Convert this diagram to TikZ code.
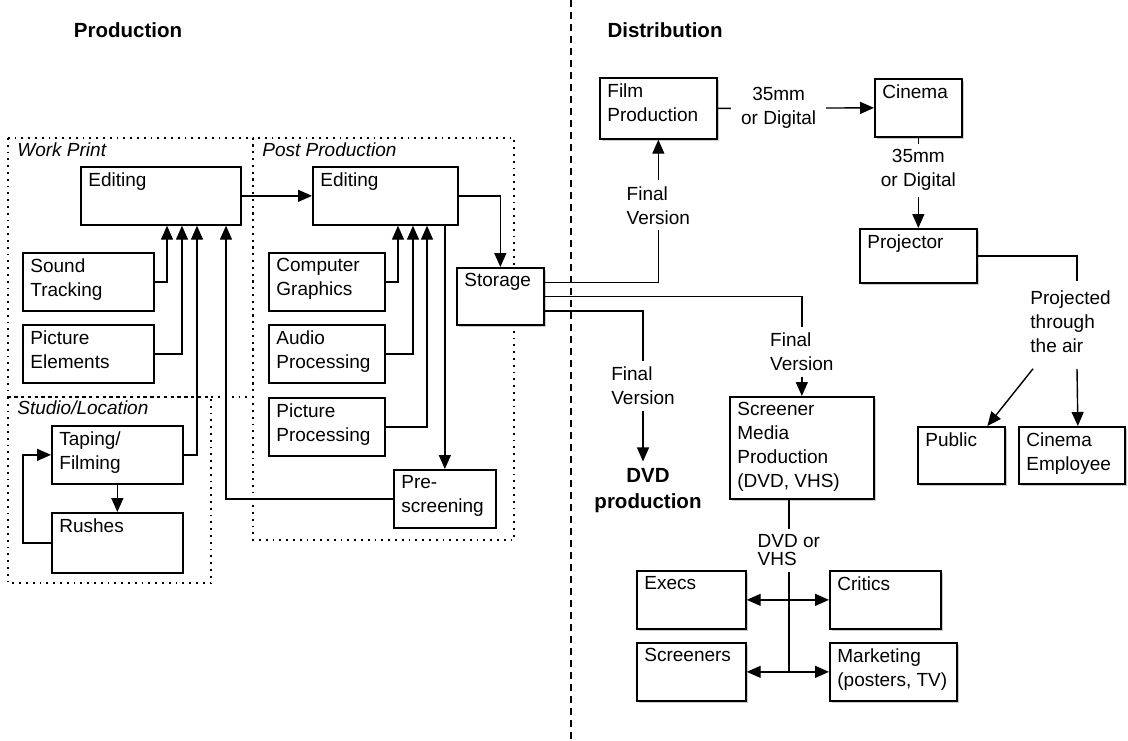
\documentclass[tikz,border=0pt]{standalone}
\usepackage{fontspec}
\setmainfont{Liberation Sans}
\usetikzlibrary{shapes,arrows.meta,positioning,calc,shadows}

\begin{document}
\begin{tikzpicture}[x=0.5pt, y=-0.5pt, every node/.style={font=\fontsize{9.5}{12}\selectfont}]
        % 定义样式
        \tikzstyle{box} = [rectangle, draw=black, line width=0.85pt, fill=white, anchor=north west, inner sep=0pt]
        \tikzstyle{sbox} = [box, drop shadow={shadow xshift=1.2pt, shadow yshift=-1.2pt, fill=black!45, opacity=0.45}]
        \tikzstyle{boxtext} = [anchor=north west, align=left, inner sep=0pt, xshift=4pt, yshift=-3pt]
        \tikzstyle{lbl} = [fill=white, align=left, inner sep=3pt]
        \tikzstyle{heading} = [font=\fontsize{10.25}{13}\selectfont\bfseries]
        \tikzstyle{grplbl} = [anchor=base west, inner sep=0pt, font=\fontsize{9.5}{12}\selectfont\itshape]
        \tikzstyle{grpframe} = [line width=0.9pt, dash pattern=on 0.9pt off 2.5pt]
        \tikzstyle{conn} = [line width=0.7pt]
        \tikzstyle{arrow} = [conn, -{Triangle[length=7pt, width=6pt]}]
        \tikzstyle{dblarrow} = [conn, {Triangle[length=7pt, width=6pt]}-{Triangle[length=7pt, width=6pt]}]

        \useasboundingbox (0,0) rectangle (1128,740);

        % 标题和分隔线
        \node (prodtitle) [heading] at (128,30) {Production};
        \node (disttitle) [heading] at (665,30) {Distribution};
        \draw [line width=0.6pt, dash pattern=on 3.5pt off 2.5pt] (571,0) -- (571,740);

        % 分组框
        \draw [grpframe] (8,138) rectangle (253,397);
        \draw [grpframe] (253,138) rectangle (514,540);
        \draw [grpframe] (8,397) rectangle (211,583);
        \node (wplabel) [grplbl] at (17,156) {Work Print};
        \node (pplabel) [grplbl] at (262,156) {Post Production};
        \node (sllabel) [grplbl] at (17,414) {Studio/Location};

        % 制作部分
        \node (wpedit) [box, minimum width=80pt, minimum height=29pt, label={[boxtext]north west:Editing}] at (80,166) {};
        \node (sound) [box, minimum width=65.5pt, minimum height=29pt, label={[boxtext]north west:{Sound\\Tracking}}] at (22,252) {};
        \node (picel) [box, minimum width=65.5pt, minimum height=29pt, label={[boxtext]north west:{Picture\\Elements}}] at (22,324) {};
        \node (taping) [box, minimum width=65.5pt, minimum height=29pt, label={[boxtext]north west:{Taping/\\Filming}}] at (51,425) {};
        \node (rushes) [box, minimum width=65.5pt, minimum height=30pt, label={[boxtext]north west:Rushes}] at (51,512) {};
        \node (ppedit) [box, minimum width=72.5pt, minimum height=29pt, label={[boxtext]north west:Editing}] at (312,166) {};
        \node (cg) [box, minimum width=58pt, minimum height=29pt, label={[boxtext]north west:{Computer\\Graphics}}] at (268,252) {};
        \node (audio) [box, minimum width=58pt, minimum height=29pt, label={[boxtext]north west:{Audio\\Processing}}] at (268,324) {};
        \node (picproc) [box, minimum width=58pt, minimum height=29pt, label={[boxtext]north west:{Picture\\Processing}}] at (268,397) {};
        \node (prescr) [box, minimum width=51pt, minimum height=29pt, label={[boxtext]north west:{Pre-\\screening}}] at (393,469) {};
        \node (storage) [sbox, minimum width=43.5pt, minimum height=28.5pt, label={[boxtext]north west:Storage}] at (456,267) {};

        % 发行部分
        \node (film) [sbox, minimum width=58.5pt, minimum height=30.5pt, label={[boxtext]north west:{Film\\Production}}] at (599,77) {};
        \node (cinema) [sbox, minimum width=43.5pt, minimum height=29pt, label={[boxtext]north west:Cinema}] at (874,78) {};
        \node (projector) [sbox, minimum width=58.5pt, minimum height=27pt, label={[boxtext]north west:Projector}] at (859,228) {};
        \node (public) [sbox, minimum width=43.5pt, minimum height=28.5pt, label={[boxtext]north west:Public}] at (917,426) {};
        \node (cinemp) [sbox, minimum width=53pt, minimum height=28.5pt, label={[boxtext]north west:{Cinema\\Employee}}] at (1018,426) {};
        \node (screener) [sbox, minimum width=72pt, minimum height=51pt, label={[boxtext]north west:{Screener\\Media\\Production\\(DVD, VHS)}}] at (729,396) {};
        \node (execs) [sbox, minimum width=54.5pt, minimum height=29pt, label={[boxtext]north west:Execs}] at (636,570) {};
        \node (critics) [sbox, minimum width=55.5pt, minimum height=29pt, label={[boxtext]north west:Critics}] at (829,570) {};
        \node (screeners) [sbox, minimum width=54.5pt, minimum height=29pt, label={[boxtext]north west:Screeners}] at (636,642) {};
        \node (marketing) [sbox, minimum width=63.5pt, minimum height=29pt, label={[boxtext]north west:{Marketing\\(posters, TV)}}] at (829,642) {};
        \node (dvd) [heading, align=center, inner sep=3.5pt] at (648,491) {DVD\\production};
        \node (air) [anchor=north west, align=left, inner sep=0pt] at (1030,290) {Projected\\through\\the air};

        % 连接节点
        \draw [arrow] (wpedit.east) -- (ppedit.west);
        \draw [arrow] (sound.east) -| ([xshift=43.5pt]wpedit.south west);
        \draw [arrow] (picel.east) -| ([xshift=51pt]wpedit.south west);
        \draw [arrow] (taping.east) -| ([xshift=58.5pt]wpedit.south west);
        \draw [arrow] (prescr.west) -| ([xshift=73pt]wpedit.south west);
        \draw [arrow] (taping) -- (rushes);
        \draw [arrow] (rushes.west) -- ++(-14pt,0) |- (taping.west);
        \draw [arrow] (cg.east) -| ([xshift=43pt]ppedit.south west);
        \draw [arrow] (audio.east) -| ([xshift=50.5pt]ppedit.south west);
        \draw [arrow] (picproc.east) -| ([xshift=57.5pt]ppedit.south west);
        \draw [arrow] (prescr.north |- ppedit.south) -- (prescr.north);
        \draw [arrow] (ppedit.east) -| (storage.north);

        \draw [arrow] ([yshift=7pt]storage.east) -| node[lbl, pos=0.77] {Final\\Version} (film.south);
        \draw [arrow] (storage.east) -| node[lbl, pos=0.78] {Final\\Version} (screener.north);
        \draw [arrow] ([yshift=-7.25pt]storage.east) -| node[lbl, pos=0.75] {Final\\Version} ([xshift=-2.5pt]dvd.north);
        \draw [arrow] (film.east) -- node[lbl, align=center, inner xsep=5pt, pos=0.39] {35mm\\or Digital} (cinema.west);
        \draw [arrow] (cinema.south) -- node[lbl, align=center, pos=0.36] {35mm\\or Digital} (projector.north);
        \draw [conn] (projector.east) -| ([xshift=23.5pt, yshift=4.5pt]air.north west);
        \draw [arrow] ([xshift=1.5pt, yshift=-8pt]air.south west) -- ([xshift=13pt]public.north);
        \draw [arrow] ([xshift=23.5pt, yshift=-8pt]air.south west) -- ([xshift=3pt]cinemp.north);

        \path (screener.south) ++(-13,0) coordinate (vtop);
        \coordinate (vbot) at (vtop |- screeners.east);
        \draw [conn] (vtop) -- node[lbl, pos=0.295] {DVD or\\[-3pt]VHS} (vbot);
        \draw [dblarrow] (execs.east) -- (critics.west);
        \draw [dblarrow] (screeners.east) -- (marketing.west);
\end{tikzpicture}
\end{document}
